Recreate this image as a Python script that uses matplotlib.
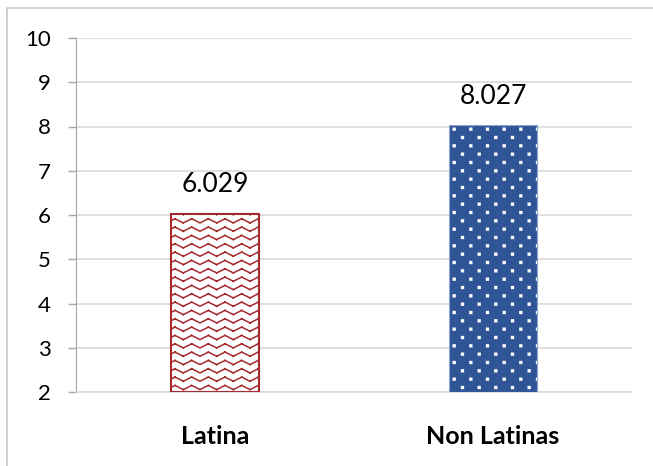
import warnings
import numpy as np
import matplotlib
matplotlib.use("Agg")
import matplotlib.pyplot as plt
import matplotlib.hatch as mhatch
from matplotlib.path import Path
from matplotlib.patches import Rectangle

warnings.filterwarnings("ignore")

categories = ["Latina", "Non Latinas"]
values = [6.029, 8.027]
labels = ["6.029", "8.027"]
y_ticks = [2, 3, 4, 5, 6, 7, 8, 9, 10]


# custom hatch patterns: 'z' = zigzag rows, 'p' = staggered dots
class ZigZag(mhatch.HatchPatternBase):
    def __init__(self, hatch, density):
        self.on = 'z' in hatch
        self.rows = 12
        self.steps = 12  # half periods
        self.num_vertices = self.rows * self.steps * 2 if self.on else 0

    def set_vertices_and_codes(self, vertices, codes):
        amp = 0.25 / self.rows
        xs = np.linspace(0, 1, self.steps + 1)
        k = 0
        for r in range(self.rows):
            y0 = (r + 0.5) / self.rows
            ys = [y0 + (amp if i % 2 else -amp) for i in range(self.steps + 1)]
            for i in range(self.steps):
                vertices[k] = (xs[i], ys[i])
                vertices[k + 1] = (xs[i + 1], ys[i + 1])
                codes[k] = Path.MOVETO
                codes[k + 1] = Path.LINETO
                k += 2


class Dots(mhatch.HatchPatternBase):
    def __init__(self, hatch, density):
        self.on = 'p' in hatch
        self.rows = 12
        self.cols = 6
        self.num_vertices = self.rows * self.cols * 5 if self.on else 0

    def set_vertices_and_codes(self, vertices, codes):
        s = 0.009
        k = 0
        for r in range(self.rows):
            y = (r + 0.5) / self.rows
            shift = 0.5 / self.cols if r % 2 else 0.0
            for c in range(self.cols):
                x = (c + 0.25) / self.cols + shift
                pts = [(x - s, y - s), (x + s, y - s), (x + s, y + s),
                       (x - s, y + s), (x - s, y - s)]
                vertices[k:k + 5] = pts
                codes[k:k + 5] = [Path.MOVETO, Path.LINETO, Path.LINETO,
                                  Path.LINETO, Path.CLOSEPOLY]
                k += 5


mhatch._hatch_types.append(ZigZag)
mhatch._hatch_types.append(Dots)

plt.rcParams['font.family'] = ['Lato', 'DejaVu Sans']
plt.rcParams['hatch.linewidth'] = 1.1

fig = plt.figure(figsize=(6.53, 4.66), dpi=100)
fig.patches.append(Rectangle((7 / 653, -0.1), 1.1, 1.1 - 8 / 466,
                             transform=fig.transFigure, fill=False,
                             edgecolor='#C8C8C8', linewidth=1.2))
ax = fig.add_axes([76 / 653, 74 / 466, 556 / 653, 354 / 466])

x = np.arange(len(categories))
bottom = y_ticks[0]
heights = [v - bottom for v in values]

ax.bar(x[0], heights[0], bottom=bottom, width=0.32, color='white',
       edgecolor='#A52A2F', linewidth=1.5, hatch='z', zorder=3)
ax.bar(x[1], heights[1], bottom=bottom, width=0.32, color='#2F5597',
       edgecolor='white', linewidth=0, hatch='p', zorder=3)
ax.bar(x[1], heights[1], bottom=bottom, width=0.32, fill=False,
       edgecolor='#8FA6CF', linewidth=0.8, zorder=4)

for xi, v, lab in zip(x, values, labels):
    ax.annotate(lab, (xi, v), xytext=(0, 12), textcoords='offset points',
                ha='center', va='bottom', fontsize=19)

ax.set_xlim(-0.5, 1.5)
ax.set_ylim(2, 10)
ax.set_yticks(y_ticks)
ax.set_xticks(x)
ax.set_xticklabels(categories, fontsize=18, fontweight='bold')
ax.tick_params(axis='x', length=0, pad=24)
ax.tick_params(axis='y', length=6, width=1, color='#A6A6A6', labelsize=16, pad=12)

ax.grid(axis='y', color='#D9D9D9', linewidth=1.2, zorder=0)
ax.set_axisbelow(True)
for s in ['top', 'right']:
    ax.spines[s].set_visible(False)
ax.spines['left'].set_color('#A6A6A6')
ax.spines['bottom'].set_color('#D9D9D9')
ax.spines['bottom'].set_linewidth(1.2)

fig.savefig('out.png', dpi=100)
